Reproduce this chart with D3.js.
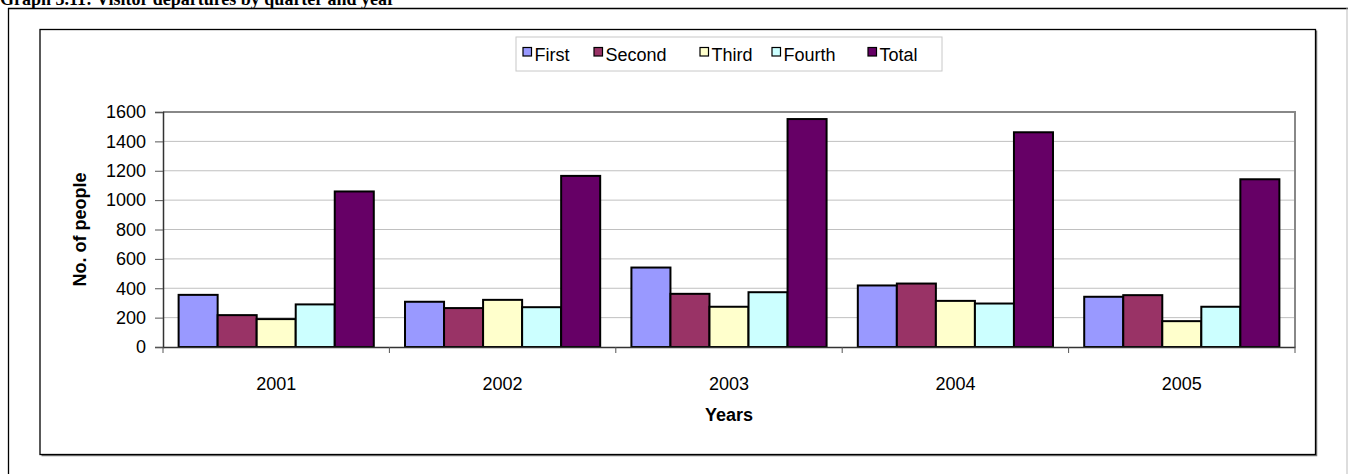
<!DOCTYPE html>
<html>
<head>
  <meta charset="utf-8">
  <title>Visitor departures by quarter and year</title>
  <script src="https://cdn.jsdelivr.net/npm/d3@7"></script>
  <style>
    body { margin: 0; background: #fff; }
    text { font-family: "Liberation Sans", Arial, sans-serif; }
  </style>
</head>
<body>
  <div id="chart"></div>
  <script>
    // data
    const years = ["2001", "2002", "2003", "2004", "2005"];
    const series = ["First", "Second", "Third", "Fourth", "Total"];
    const first  = [355, 308, 541, 419, 342];
    const second = [217, 265, 362, 432, 353];
    const third  = [190, 321, 274, 314, 176];
    const fourth = [290, 271, 373, 296, 274];
    const total  = [1059, 1165, 1552, 1462, 1142];
    const yTicks = [0, 200, 400, 600, 800, 1000, 1200, 1400, 1600];
    const colors = ["#9999ff", "#993366", "#ffffcc", "#ccffff", "#660066"];

    const values = [first, second, third, fourth, total];
    const rows = [];
    years.forEach((yr, i) => {
      series.forEach((s, j) => rows.push({ year: yr, series: s, value: values[j][i] }));
    });

    const W = 1348, H = 474;
    const plot = { left: 163, right: 1295, top: 112, bottom: 347 };

    const svg = d3.select("#chart").append("svg")
      .attr("width", W).attr("height", H);

    // caption (sits at the very top of the page, as in the scan)
    svg.append("text")
      .attr("x", 0).attr("y", 5)
      .style("font-family", "'Liberation Serif', 'Times New Roman', serif")
      .style("font-weight", "bold").style("font-size", "18px")
      .text("Graph 3.11: Visitor departures by quarter and year");

    // outer page frame
    svg.append("line").attr("x1", 8.5).attr("x2", 8.5).attr("y1", 8).attr("y2", H)
      .attr("stroke", "#000").attr("stroke-width", 1.3);
    svg.append("line").attr("x1", 8).attr("x2", W).attr("y1", 8.5).attr("y2", 8.5)
      .attr("stroke", "#000").attr("stroke-width", 1.3);
    svg.append("line").attr("x1", 1347).attr("x2", 1347).attr("y1", 8).attr("y2", H)
      .attr("stroke", "#bbb").attr("stroke-width", 1);

    // chart frame with shadow
    svg.append("polyline")
      .attr("points", "41.5,455.5 1316.5,455.5 1316.5,30.5")
      .attr("fill", "none").attr("stroke", "#777").attr("stroke-width", 1.5);
    svg.append("rect")
      .attr("x", 40).attr("y", 29.5).attr("width", 1275.5).attr("height", 425)
      .attr("fill", "none").attr("stroke", "#000").attr("stroke-width", 1.3);

    const y = d3.scaleLinear().domain([0, 1600]).range([plot.bottom, plot.top]);
    const x = d3.scaleBand().domain(years).range([plot.left, plot.right]).padding(0);
    const xs = d3.scaleBand().domain(series).range([0, x.bandwidth()])
      .paddingInner(0).paddingOuter(0.4);
    const color = d3.scaleOrdinal().domain(series).range(colors);

    // gridlines
    svg.append("g").selectAll("line")
      .data(yTicks.filter(d => d > 0 && d < 1600))
      .join("line")
      .attr("x1", plot.left).attr("x2", plot.right)
      .attr("y1", d => y(d)).attr("y2", d => y(d))
      .attr("stroke", "#c0c0c0").attr("stroke-width", 1);

    // plot area border (top / right)
    svg.append("polyline")
      .attr("points", `${plot.left},${plot.top} ${plot.right},${plot.top} ${plot.right},${plot.bottom}`)
      .attr("fill", "none").attr("stroke", "#888").attr("stroke-width", 2);

    // bars
    svg.append("g").selectAll("rect")
      .data(rows)
      .join("rect")
      .attr("x", d => x(d.year) + xs(d.series))
      .attr("y", d => y(d.value))
      .attr("width", xs.bandwidth())
      .attr("height", d => y(0) - y(d.value))
      .attr("fill", d => color(d.series))
      .attr("stroke", "#000").attr("stroke-width", 2);

    // y axis
    const yAxis = svg.append("g")
      .attr("transform", `translate(${plot.left},0)`)
      .call(d3.axisLeft(y).tickValues(yTicks).tickFormat(d3.format("d"))
        .tickSize(8).tickPadding(9));
    yAxis.select(".domain").attr("stroke", "#333").attr("stroke-width", 1.5);
    yAxis.selectAll(".tick line").attr("stroke", "#555");
    yAxis.selectAll(".tick text")
      .style("font-size", "18px").attr("fill", "#000");

    // x axis, ticks between categories
    const xAxis = svg.append("g")
      .attr("transform", `translate(0,${plot.bottom})`)
      .call(d3.axisBottom(x).tickSize(0).tickPadding(30));
    xAxis.select(".domain").attr("stroke", "#333").attr("stroke-width", 1.5);
    xAxis.selectAll(".tick text")
      .style("font-size", "18px").attr("fill", "#000");
    xAxis.selectAll(".sep")
      .data(years.concat(["end"]))
      .join("line")
      .attr("class", "sep")
      .attr("x1", (d, i) => plot.left + i * x.step())
      .attr("x2", (d, i) => plot.left + i * x.step())
      .attr("y1", 0).attr("y2", 6)
      .attr("stroke", "#555");

    // axis titles
    svg.append("text")
      .attr("transform", `translate(86,${(plot.top + plot.bottom) / 2}) rotate(-90)`)
      .attr("text-anchor", "middle")
      .style("font-size", "18px").style("font-weight", "bold")
      .text("No. of people");
    svg.append("text")
      .attr("x", (plot.left + plot.right) / 2).attr("y", 421)
      .attr("text-anchor", "middle")
      .style("font-size", "18px").style("font-weight", "bold")
      .text("Years");

    // legend
    const legendX = [523, 594, 700, 772, 868];
    svg.append("rect")
      .attr("x", 516).attr("y", 37).attr("width", 426).attr("height", 34)
      .attr("fill", "#fff").attr("stroke", "#c8c8c8").attr("stroke-width", 1);
    const lg = svg.append("g").selectAll("g")
      .data(series)
      .join("g")
      .attr("transform", (d, i) => `translate(${legendX[i]},0)`);
    lg.append("rect")
      .attr("x", 0).attr("y", 47.5).attr("width", 8.5).attr("height", 8.5)
      .attr("fill", d => color(d)).attr("stroke", "#000").attr("stroke-width", 1.2);
    lg.append("text")
      .attr("x", 11.5).attr("y", 61)
      .style("font-size", "18px")
      .text(d => d);
  </script>
</body>
</html>
